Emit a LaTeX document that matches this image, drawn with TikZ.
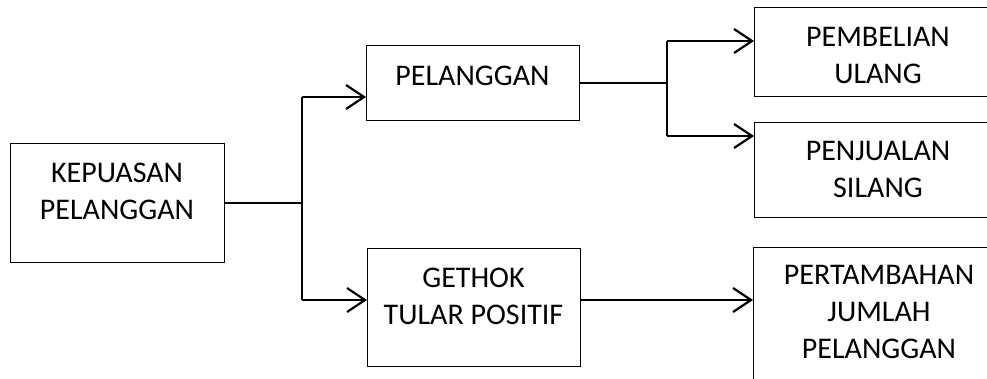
\documentclass[tikz,border=0pt]{standalone}
\usepackage{fontspec}
\setmainfont{Carlito}
\usetikzlibrary{arrows.meta}
\begin{document}
\begin{tikzpicture}[x=1pt,y=-1pt,
  box/.style={draw=black, line width=1.3pt, inner sep=0pt, anchor=north west, rectangle},
  txt/.style={align=center, font=\fontsize{30}{37}\selectfont, inner sep=0pt},
  conn/.style={line width=2.2pt},
  arr/.style={conn, -{Straight Barb[length=18pt, width=24pt, line width=2.2pt]}}]
\useasboundingbox (0,0) rectangle (987,378);
\clip (0,0) rectangle (987,378);
% boxes
\node[box, minimum width=214pt, minimum height=119pt] (k) at (10,143) {};
\node[box, minimum width=213pt, minimum height=75pt] (p) at (366,45) {};
\node[box, minimum width=213pt, minimum height=118pt] (g) at (367,248) {};
\node[box, minimum width=246pt, minimum height=89pt] (pb) at (754,7) {};
\node[box, minimum width=246pt, minimum height=95pt] (pj) at (754,122) {};
\node[box, minimum width=247pt, minimum height=160pt] (pt) at (753,247) {};
% texts
\node[txt] (kt) at (117,191.5) {KEPUASAN\\PELANGGAN};
\node[txt] (ptx) at (472.5,76) {PELANGGAN};
\node[txt] (gt) at (473.5,296.5) {GETHOK\\TULAR POSITIF};
\node[txt] (pbt) at (878,55) {PEMBELIAN\\ULANG};
\node[txt] (pjt) at (878,169.5) {PENJUALAN\\SILANG};
\node[txt] (ptt) at (879,311.5) {PERTAMBAHAN\\JUMLAH\\PELANGGAN};
% connectors
\coordinate (ja) at (302,97);
\coordinate (jb) at (302,300);
\coordinate (jc1) at (667,41);
\coordinate (jc2) at (667,136);
\draw[conn] (k.east) -- (k.east -| ja);
\draw[conn] (ja) -- (jb);
\draw[arr] (ja) -- (ja -| p.west);
\draw[arr] (jb) -- (jb -| g.west);
\draw[conn] (p.east) -- (p.east -| jc1);
\draw[conn] (jc1) -- (jc2);
\draw[arr] (jc1) -- (jc1 -| pb.west);
\draw[arr] (jc2) -- (jc2 -| pj.west);
\draw[arr] (jb -| g.east) -- (jb -| pt.west);
\end{tikzpicture}
\end{document}
